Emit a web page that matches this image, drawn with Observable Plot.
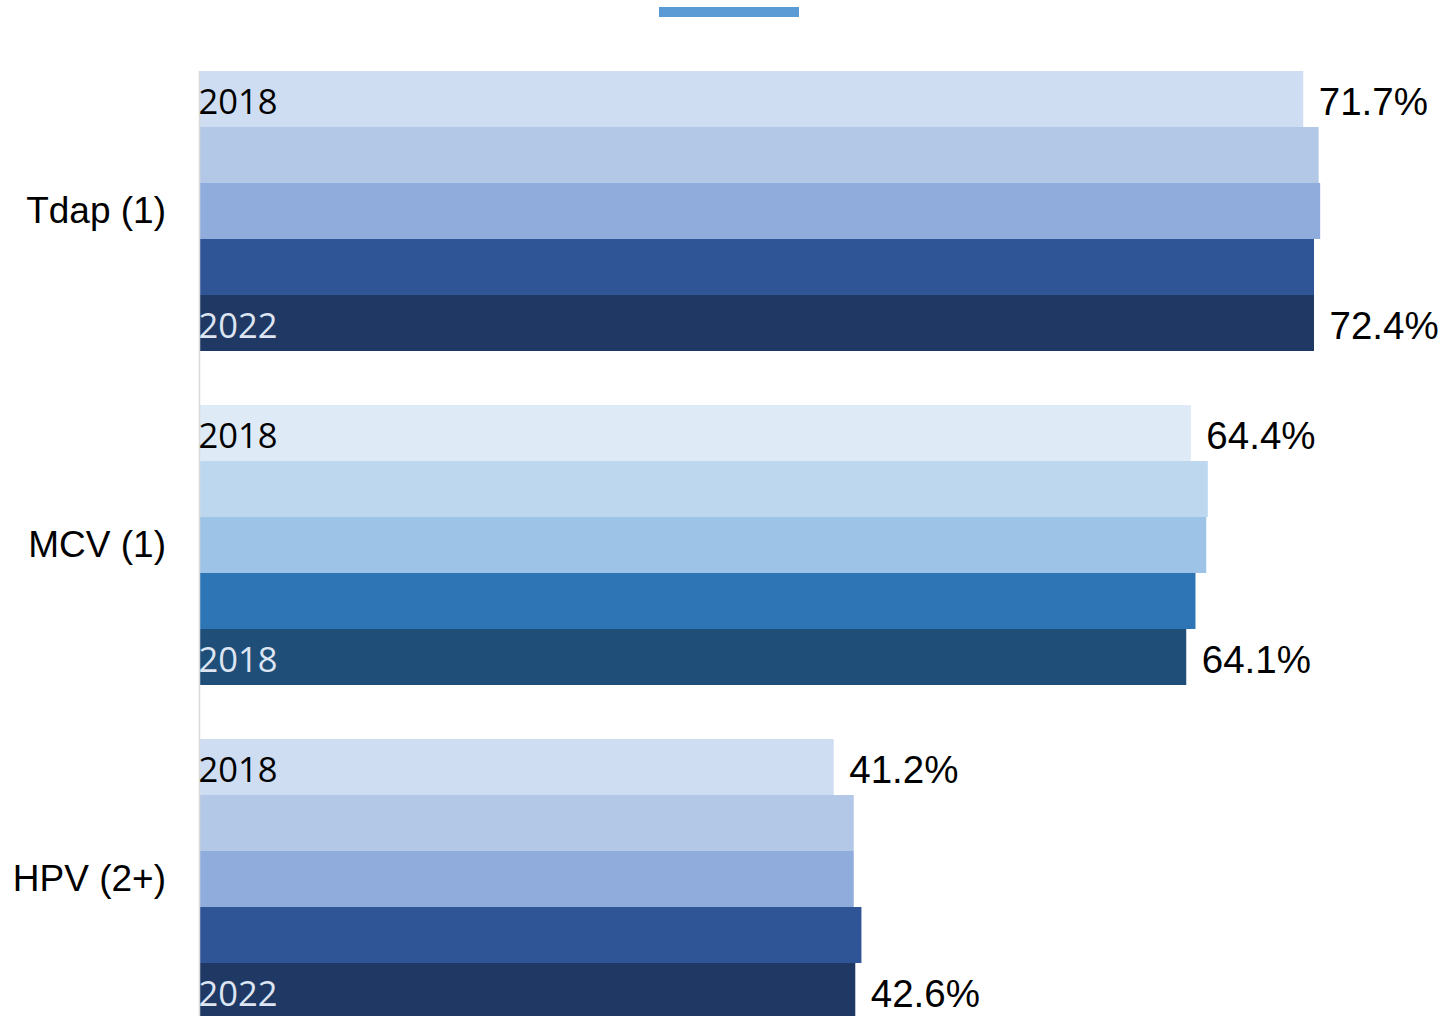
<!DOCTYPE html>
<html>
<head>
<meta charset="utf-8">
<script src="https://cdn.jsdelivr.net/npm/d3@7"></script>
<script src="https://cdn.jsdelivr.net/npm/@observablehq/plot@0.6"></script>
<style>
  html, body { margin: 0; padding: 0; background: #fff; overflow: hidden; }
  #wrap { position: relative; width: 1447px; height: 1016px; overflow: hidden; }
  #legend { position: absolute; left: 659px; top: 7px; width: 140px; height: 10px; background: #5b9bd5; }
  #chart { position: absolute; left: 0; top: 0; }
</style>
</head>
<body>
<div id="wrap">
  <div id="chart"></div>
  <div id="legend"></div>
</div>
<script>
// ---- data ----
const groups = ["Tdap (1)", "MCV (1)", "HPV (2+)"];
const bars = [0, 1, 2, 3, 4];               // five yearly bars per group, 2018 → 2022
const tdapValues = [71.7, 72.7, 72.8, 72.4, 72.4];
const mcvValues  = [64.4, 65.5, 65.4, 64.7, 64.1];
const hpvValues  = [41.2, 42.5, 42.5, 43.0, 42.6];
const tdapTags = ["2018", "", "", "", "2022"];
const mcvTags  = ["2018", "", "", "", "2018"];
const hpvTags  = ["2018", "", "", "", "2022"];

// palettes (styles)
const tdapColors = ["#cfddf2", "#b3c7e6", "#8facdc", "#2f5597", "#203864"];
const mcvColors  = ["#deeaf6", "#bdd7ee", "#9dc3e6", "#2e75b6", "#1f4e79"];
const hpvColors  = ["#cfddf2", "#b3c7e6", "#8facdc", "#2f5597", "#203864"];

// ---- table ----
const series = [
  {group: groups[0], values: tdapValues, tags: tdapTags, colors: tdapColors},
  {group: groups[1], values: mcvValues,  tags: mcvTags,  colors: mcvColors},
  {group: groups[2], values: hpvValues,  tags: hpvTags,  colors: hpvColors}
];
const rows = series.flatMap(s => bars.map(i => ({
  group: s.group, bar: i, value: s.values[i], tag: s.tags[i], key: s.group + "|" + i, color: s.colors[i]
})));
const colorDomain = rows.map(d => d.key);
const colorRange = rows.map(d => d.color);
const ends = rows.filter(d => d.bar === 0 || d.bar === 4);
const tagRows = rows.filter(d => d.tag !== "");

const chart = Plot.plot({
  width: 1447,
  height: 1019,
  marginLeft: 199.5,
  marginRight: 16,
  marginTop: 71,
  marginBottom: 0,
  x: {domain: [0, 80], axis: null},
  y: {domain: bars, padding: 0, axis: null},
  fy: {domain: groups, paddingInner: 54 / 334, paddingOuter: 0},
  color: {domain: colorDomain, range: colorRange},
  style: {background: "transparent"},
  marks: [
    Plot.barX(rows, {x: "value", y: "bar", fy: "group", fill: "key"}),
    Plot.ruleX([0], {stroke: "#d9d9d9", strokeWidth: 1.5, dx: -0.5, insetBottom: -54}),
    Plot.text(tagRows, {
      x: 0, y: "bar", fy: "group", text: "tag",
      textAnchor: "start", dx: -1.5, dy: 3,
      fill: d => d.bar === 0 ? "#000000" : "#dde5f2",
      fontFamily: "'Open Sans', sans-serif", fontSize: 34.5
    }),
    Plot.text(ends, {
      x: "value", y: "bar", fy: "group",
      text: d => d.value.toFixed(1) + "%",
      textAnchor: "start", dx: 15, dy: 3,
      fill: "#000",
      fontFamily: "'Liberation Sans', Arial, sans-serif", fontSize: 38.5
    }),
    Plot.axisFy({
      anchor: "left", tickSize: 0, tickPadding: 34, label: null,
      fontFamily: "'Liberation Sans', Arial, sans-serif", fontSize: 37, fill: "#000"
    })
  ]
});
document.getElementById("chart").appendChild(chart);
</script>
</body>
</html>
